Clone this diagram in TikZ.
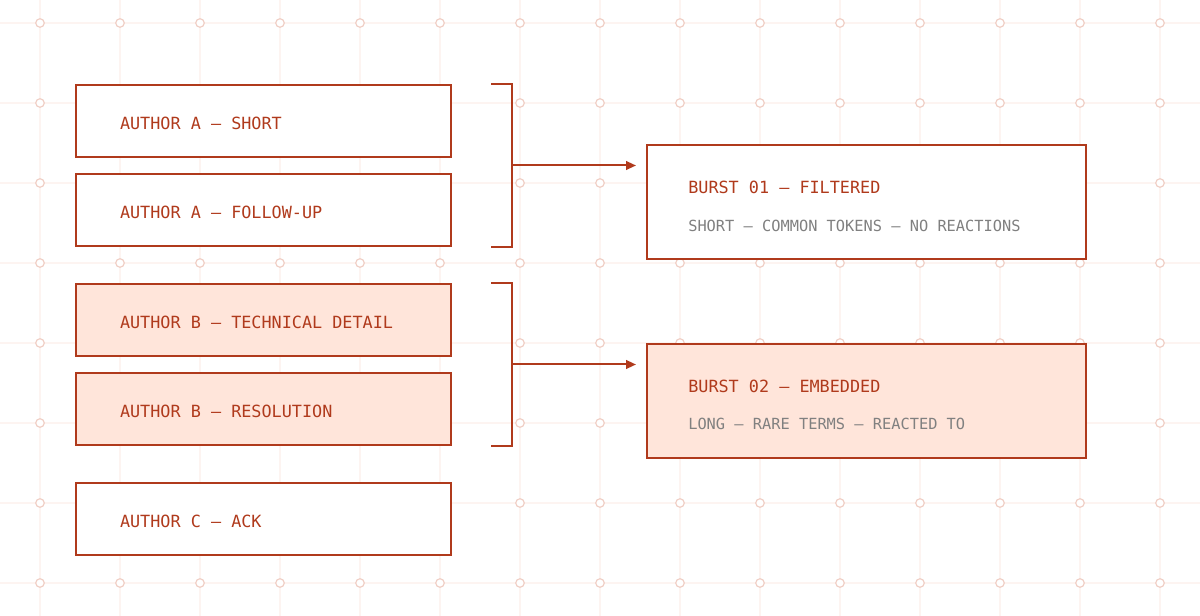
\documentclass[tikz,border=0pt]{standalone}
\usepackage{fontspec}
\setmonofont{DejaVu Sans Mono}
\usetikzlibrary{positioning,arrows.meta,calc}
\definecolor{rust}{HTML}{B03A1C}
\definecolor{blush}{HTML}{FFE5DA}
\definecolor{gridline}{HTML}{FDF4F1}
\definecolor{griddot}{HTML}{F0CFC6}
\definecolor{note}{HTML}{808080}

\begin{document}
\begin{tikzpicture}[x=0.75pt,y=-0.75pt,
   post/.style={draw=rust, line width=1.5pt, fill=white,
                minimum width=281.25pt, minimum height=54pt,
                text width=215.25pt, inner xsep=33pt, align=flush left,
                text height=12.2pt, text depth=0pt,
                text=rust, font=\ttfamily\fontsize{12.6}{15}\selectfont},
   hot/.style={fill=blush},
   burst/.style={draw=rust, line width=1.5pt, fill=white,
                minimum width=329.25pt, minimum height=85.5pt},
   title/.style={anchor=base west, inner sep=0pt, text=rust,
                font=\ttfamily\fontsize{12.6}{15}\selectfont},
   sub/.style={anchor=base west, inner sep=0pt, text=note,
                font=\ttfamily\fontsize{11.5}{14}\selectfont},
   bracket/.style={draw=rust, line width=1.5pt},
   flow/.style={draw=rust, line width=1.5pt, shorten >=7.5pt,
                -{Triangle[length=7.5pt,width=6.5pt]}}]

\fill[white] (0,0) rectangle (1200,616);
\useasboundingbox (0,0) rectangle (1200,616);

% background grid
\foreach \gx in {40,120,...,1160}
   \draw[gridline, line width=0.9pt] (\gx,0) -- (\gx,616);
\foreach \gy in {23,103,...,583}
   \draw[gridline, line width=0.9pt] (0,\gy) -- (1200,\gy);
\foreach \gx in {40,120,...,1160}
   \foreach \gy in {23,103,...,583}
      \draw[griddot, line width=0.9pt, fill=white] (\gx,\gy) circle (3.2pt);

% messages
\node[post] (a1) at (263.5,121) {AUTHOR A – SHORT};
\node[post, below=11.25pt of a1] (a2) {AUTHOR A – FOLLOW-UP};
\node[post, hot, below=27pt of a2] (b1) {AUTHOR B – TECHNICAL DETAIL};
\node[post, hot, below=11.25pt of b1] (b2) {AUTHOR B – RESOLUTION};
\node[post, below=27pt of b2] (c1) {AUTHOR C – ACK};

% bursts
\node[burst] (burst1) at (866.5,202) {};
\node[burst, hot, below=62.25pt of burst1] (burst2) {};

\node[title] (burst1t) at ($(burst1.north west)+(42,50)$) {BURST 01 – FILTERED};
\node[sub] (burst1s) at ($(burst1.north west)+(42,88)$) {SHORT – COMMON TOKENS – NO REACTIONS};
\node[title] (burst2t) at ($(burst2.north west)+(42,50)$) {BURST 02 – EMBEDDED};
\node[sub] (burst2s) at ($(burst2.north west)+(42,87)$) {LONG – RARE TERMS – REACTED TO};

% grouping
\coordinate (br1) at ($(a1.north east)!0.5!(a2.south east)+(60,0)$);
\coordinate (br2) at ($(b1.north east)!0.5!(b2.south east)+(60,0)$);

\draw[bracket] ($(a1.north east)+(39,0)$) -| (br1) |- ($(a2.south east)+(39,0)$);
\draw[bracket] ($(b1.north east)+(39,0)$) -| (br2) |- ($(b2.south east)+(39,0)$);

\draw[flow] (br1) -- (br1 -| burst1.west);
\draw[flow] (br2) -- (br2 -| burst2.west);

\end{tikzpicture}
\end{document}
